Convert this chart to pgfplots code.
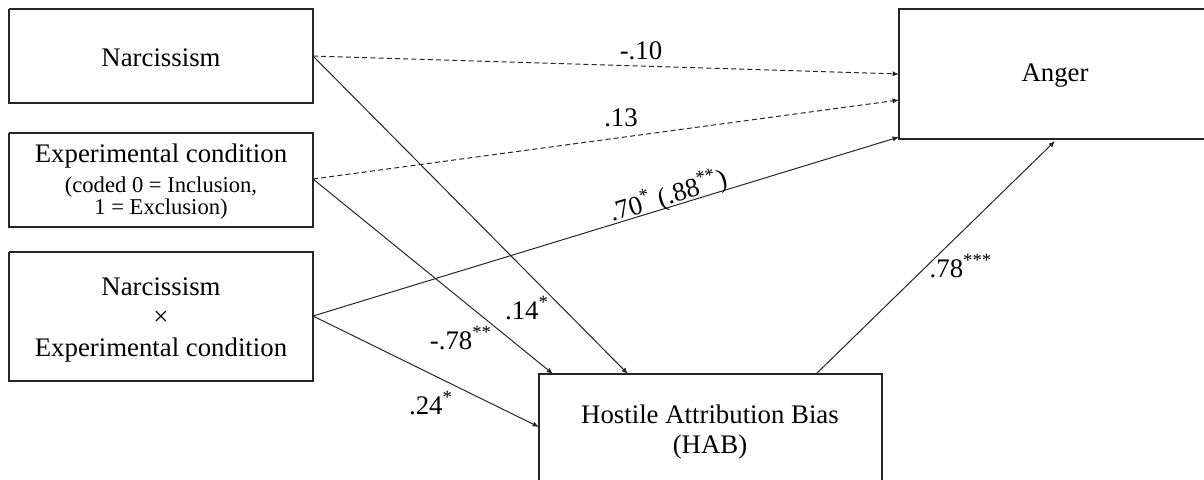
\documentclass[border=0pt]{standalone}
\usepackage{fontspec}
\setmainfont{Liberation Serif}
\usepackage{pgfplots}
\pgfplotsset{compat=1.18}
\usetikzlibrary{arrows.meta}

% pixel grid of the reference: 1 px = 0.5pt
\newcommand{\bigtxt}{\fontsize{13.4}{16}\selectfont}
\newcommand{\smalltxt}{\fontsize{11.3}{13.5}\selectfont}

\tikzset{
  box/.style={black!85, line width=0.6pt, line join=miter},
  arr/.style={black!85, line width=0.5pt, -{Latex[length=3.2pt,width=2.6pt]}},
  darr/.style={arr, dash pattern=on 2.5pt off 1.6pt},
  lbl/.style={font=\bigtxt, anchor=base, inner sep=0pt},
}

\begin{document}
\begin{tikzpicture}
  \begin{axis}[
    width=602pt, height=239.5pt,
    scale only axis,
    xmin=0, xmax=1204,
    ymin=0, ymax=479,
    y dir=reverse,
    hide axis,
    ]

    % frame of the page
    \addplot[draw=none] coordinates {(0,0) (1204,479)};

    % boxes
    \addplot[box] coordinates {(9,9) (313,9) (313,103) (9,103) (9,9)};
    \addplot[box] coordinates {(9,133) (313,133) (313,227) (9,227) (9,133)};
    \addplot[box] coordinates {(9,252) (313,252) (313,381) (9,381) (9,252)};
    \addplot[box] coordinates {(1215,9) (899,9) (899,139) (1215,139)};
    \addplot[box] coordinates {(539,495) (539,374) (882,374) (882,495)};

    % paths
    \addplot[darr] coordinates {(313,56) (899,74)};
    \addplot[darr] coordinates {(313,179) (899,100)};
    \addplot[arr] coordinates {(313,316) (899,137)};
    \addplot[arr] coordinates {(313,56) (628,374)};
    \addplot[arr] coordinates {(313,179) (553,374)};
    \addplot[arr] coordinates {(313,316) (539,427)};
    \addplot[arr] coordinates {(816,374) (1055,141)};

    % box texts
    \node[font=\bigtxt] at (axis cs:161,58) {Narcissism};
    \node[font=\bigtxt] at (axis cs:161,156) {Experimental condition};
    \node[font=\smalltxt] at (axis cs:161,187) {(coded 0 = Inclusion,};
    \node[font=\smalltxt] at (axis cs:161,209) {1 = Exclusion)};
    \node[font=\bigtxt] at (axis cs:161,287) {Narcissism};
    \node[font=\bigtxt] at (axis cs:161,318) {×};
    \node[font=\bigtxt] at (axis cs:161,350) {Experimental condition};
    \node[font=\bigtxt] at (axis cs:1055,76) {Anger};
    \node[font=\bigtxt] at (axis cs:710,414) {Hostile Attribution Bias};
    \node[font=\bigtxt] at (axis cs:710,447) {(HAB)};

    % coefficients
    \node[lbl] at (axis cs:641,59) {-.10};
    \node[lbl] at (axis cs:621,126) {.13};
    \node[font=\bigtxt, rotate=17, inner sep=0pt] at (axis cs:668,196) {.70\textsuperscript{*} (.88\textsuperscript{**})};
    \node[lbl] at (axis cs:527,319) {.14\textsuperscript{*}};
    \node[lbl] at (axis cs:461,349) {-.78\textsuperscript{**}};
    \node[lbl] at (axis cs:431,414) {.24\textsuperscript{*}};
    \node[lbl] at (axis cs:961,277) {.78\textsuperscript{***}};
  \end{axis}
\end{tikzpicture}
\end{document}
